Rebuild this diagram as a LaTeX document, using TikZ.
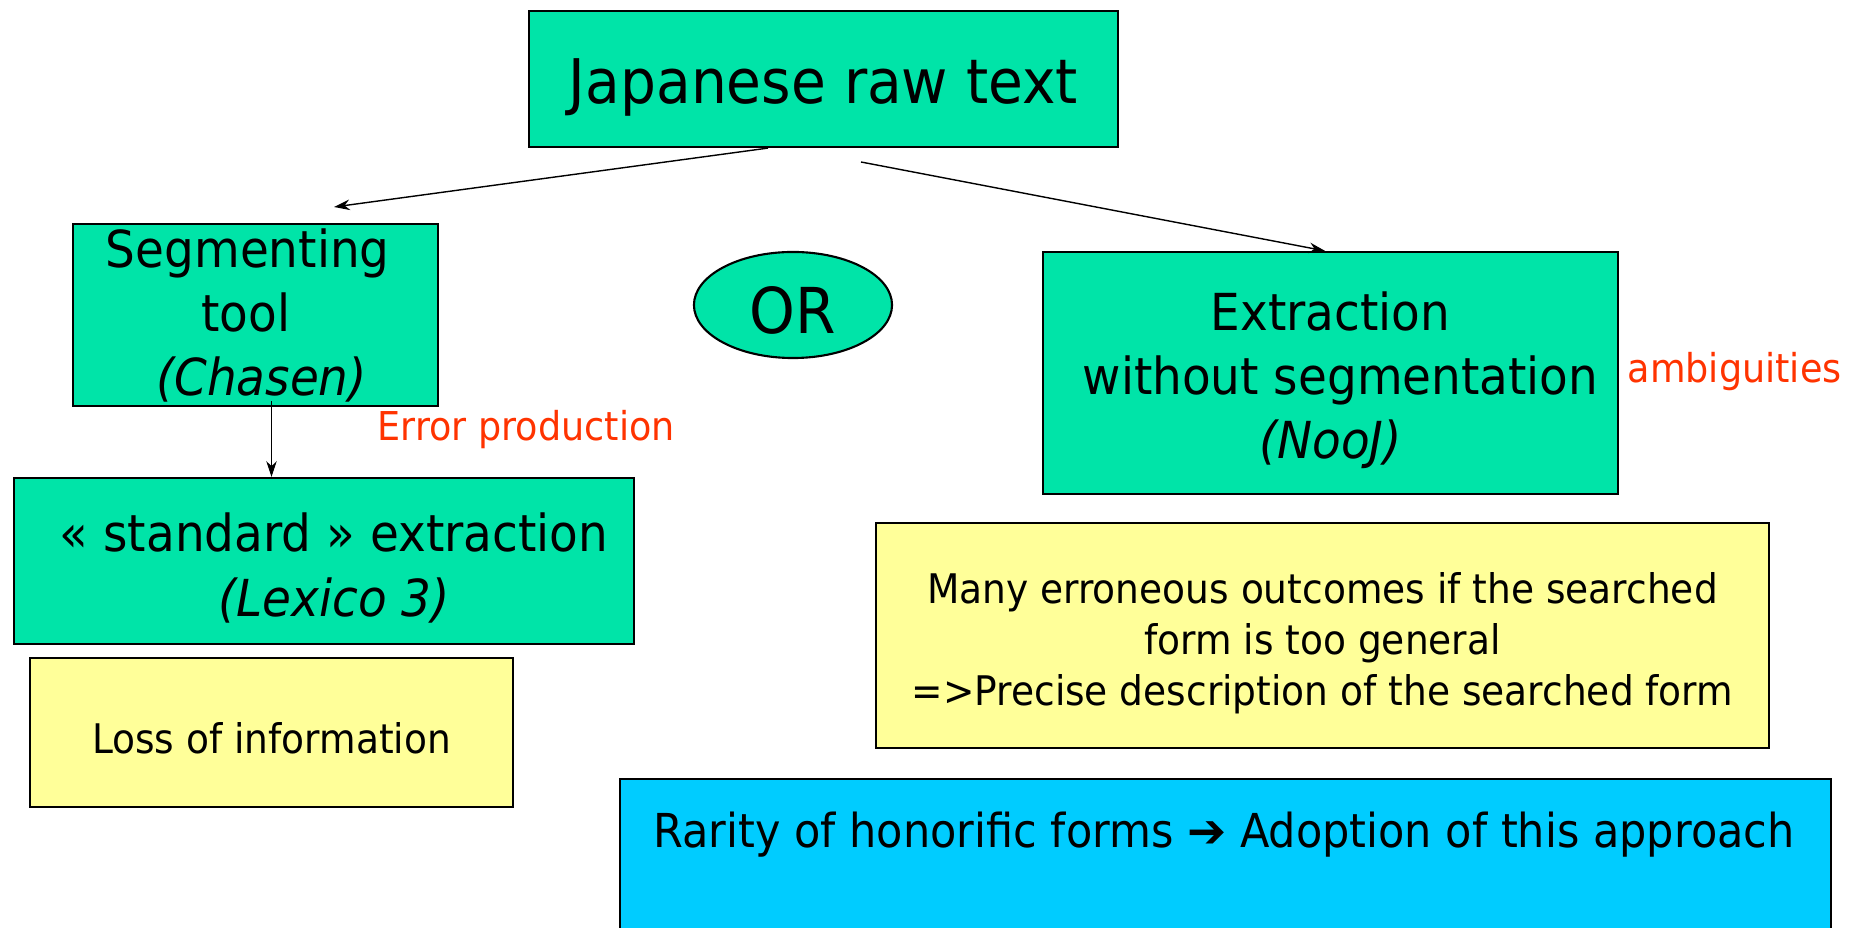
\documentclass[tikz,border=0pt]{standalone}
\usepackage{fontspec}
\setmainfont{DejaVu Sans}[FakeStretch=0.92]
\newfontfamily\symfont{DejaVu Sans}
\usetikzlibrary{shapes.geometric, arrows.meta}
\definecolor{boxgreen}{RGB}{0,228,168}
\definecolor{noteyellow}{RGB}{255,255,153}
\definecolor{resultblue}{RGB}{0,204,255}
\definecolor{remarkred}{RGB}{255,51,0}
\tikzstyle{stage} = [rectangle, draw=black, line width=0.6pt, fill=boxgreen, align=center, inner sep=0pt]
\tikzstyle{note} = [rectangle, draw=black, line width=0.6pt, fill=noteyellow, align=center, inner sep=0pt]
\tikzstyle{remark} = [text=remarkred, inner sep=0pt, font=\fontsize{11.3}{13.5}\selectfont]
\tikzstyle{arrow} = [line width=0.4pt, -{Stealth[length=4.5pt, width=3pt]}]
% taller first line, pushes the text block down a little
\newcommand{\lift}[1]{\rule{0pt}{#1}}

\begin{document}
\begin{tikzpicture}[x=0.01cm, y=-0.01cm]
\clip (0,0) rectangle (1859,928);
%Input
\node[stage, minimum width=5.89cm, minimum height=1.36cm, text height=17.3pt, font=\fontsize{17.5}{21}\selectfont] (raw) at (823.5,79) {Japanese raw text};
%Left branch
\node[stage, minimum width=3.64cm, minimum height=1.82cm, font=\fontsize{14.5}{18.2}\selectfont] (seg) at (255.5,315) {Segmenting\rule{4.4pt}{0pt}\\tool\rule{5.4pt}{0pt}\\\rule{3.4pt}{0pt}\textit{(Chasen)}};
\node[stage, minimum width=6.2cm, minimum height=1.66cm, font=\fontsize{14.5}{18.5}\selectfont] (std) at (324,561) {\lift{15pt}\hspace*{5.7pt}« standard » extraction\\\hspace*{5.7pt}\textit{(Lexico 3)}};
\node[note, minimum width=4.83cm, minimum height=1.49cm, text height=12.2pt, font=\fontsize{11.6}{14}\selectfont] (loss) at (271.5,732.5) {Loss of information};
\node[remark, anchor=west] (error) at (377,430) {Error production};
%Middle
\node[ellipse, draw=black, line width=0.6pt, fill=boxgreen, minimum width=1.98cm, minimum height=1.06cm, inner sep=0pt, text height=16.2pt, font=\fontsize{18}{21}\selectfont] (or) at (793,305) {OR};
%Right branch
\node[stage, minimum width=5.75cm, minimum height=2.42cm, font=\fontsize{14.5}{18.2}\selectfont] (ext) at (1330.5,373) {\lift{15pt}Extraction\\\hspace*{5.7pt}without segmentation\\\textit{(NooJ)}};
\node[remark, anchor=west] (ambig) at (1627,372) {ambiguities};
\node[note, minimum width=8.93cm, minimum height=2.25cm, font=\fontsize{11.6}{14.5}\selectfont] (many) at (1322.5,635.5) {\lift{13.3pt}Many erroneous outcomes if the searched\\form is too general\\=>Precise description of the searched form};
%Conclusion
\node[rectangle, draw=black, line width=0.6pt, fill=resultblue, anchor=north west, minimum width=12.1cm, minimum height=2cm] (adopt) at (619,778) {};
\node[font=\fontsize{13.3}{16}\selectfont] (rarity) at (1224,835) {Rarity of honorific forms {\symfont ➔} Adoption of this approach};

\coordinate (segtop) at (334,207);
\coordinate (rawright) at (861,162);
\draw[arrow] ([xshift=-0.555cm]raw.south) -- (segtop);
\draw[arrow] (rawright) -- ([xshift=-0.055cm]ext.north);
\draw[arrow, line width=0.3pt] ([xshift=0.16cm, yshift=0.06cm]seg.south) -- ([xshift=0.16cm]seg.south |- std.north);
\end{tikzpicture}
\end{document}
